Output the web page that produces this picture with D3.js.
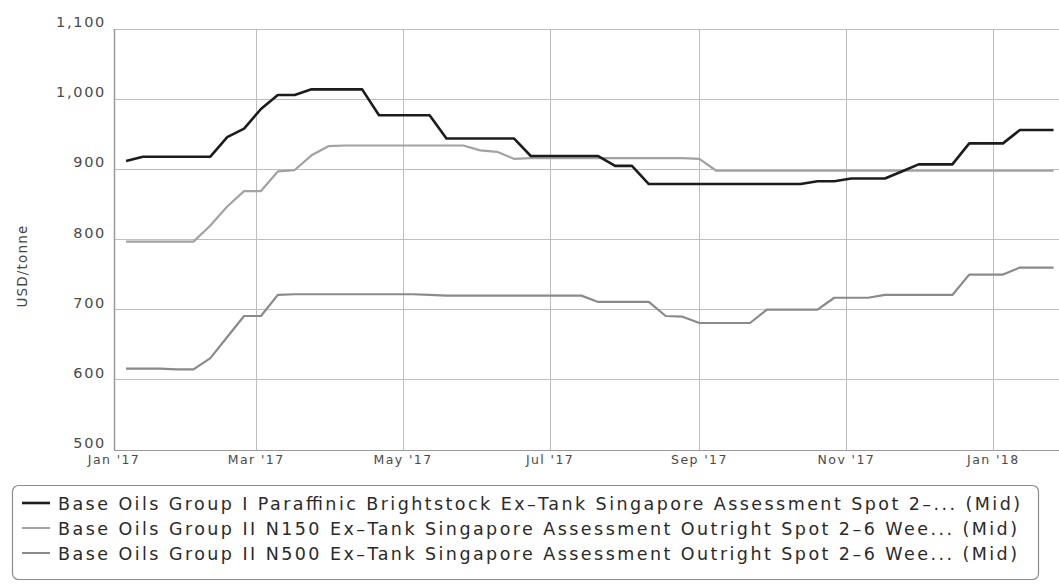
<!DOCTYPE html>
<html><head><meta charset="utf-8">
<script src="https://cdnjs.cloudflare.com/ajax/libs/d3/7.8.5/d3.min.js"></script>
<style>html,body{margin:0;padding:0;background:#fff;} svg{display:block;}</style>
</head><body><svg id="chart" width="1059" height="588"></svg>
<script>
const dates = [
 "2017-01-06","2017-01-13","2017-01-20","2017-01-27","2017-02-03","2017-02-10","2017-02-17","2017-02-24",
 "2017-03-03","2017-03-10","2017-03-17","2017-03-24","2017-03-31","2017-04-07","2017-04-14","2017-04-21",
 "2017-04-28","2017-05-05","2017-05-12","2017-05-19","2017-05-26","2017-06-02","2017-06-09","2017-06-16",
 "2017-06-23","2017-06-30","2017-07-07","2017-07-14","2017-07-21","2017-07-28","2017-08-04","2017-08-11",
 "2017-08-18","2017-08-25","2017-09-01","2017-09-08","2017-09-15","2017-09-22","2017-09-29","2017-10-06",
 "2017-10-13","2017-10-20","2017-10-27","2017-11-03","2017-11-10","2017-11-17","2017-11-24","2017-12-01",
 "2017-12-08","2017-12-15","2017-12-22","2017-12-29","2018-01-05","2018-01-12","2018-01-19","2018-01-26"
];
const brightstock = [
 912,918,918,918,918,918,946,958,
 986,1006,1006,1014,1014,1014,1014,977,
 977,977,977,944,944,944,944,944,
 919,919,919,919,919,905,905,879,
 879,879,879,879,879,879,879,879,
 879,883,883,887,887,887,897,907,
 907,907,937,937,937,956,956,956
];
const n150 = [
 797,797,797,797,797,820,847,869,
 869,897,899,920,933,934,934,934,
 934,934,934,934,934,927,925,915,
 916,916,916,916,916,916,916,916,
 916,916,915,898,898,898,898,898,
 898,898,898,898,898,898,898,898,
 898,898,898,898,898,898,898,898
];
const n500 = [
 616,616,616,615,615,631,661,691,
 691,721,722,722,722,722,722,722,
 722,722,721,720,720,720,720,720,
 720,720,720,720,711,711,711,711,
 691,690,681,681,681,681,700,700,
 700,700,717,717,717,721,721,721,
 721,721,750,750,750,760,760,760
];
const seriesNames = [
 "Base Oils Group I Paraffinic Brightstock Ex\u2013Tank Singapore Assessment Spot 2\u2013... (Mid)",
 "Base Oils Group II N150 Ex\u2013Tank Singapore Assessment Outright Spot 2\u20136 Wee... (Mid)",
 "Base Oils Group II N500 Ex\u2013Tank Singapore Assessment Outright Spot 2\u20136 Wee... (Mid)"
];
const seriesColors = ["#1c1c1c", "#a2a2a2", "#8a8a8a"];
const seriesWidths = [2.6, 2.2, 2.2];
const yTicks = [500, 600, 700, 800, 900, 1000, 1100];
const xTickDates = ["2017-01-01","2017-03-01","2017-05-01","2017-07-01","2017-09-01","2017-11-01","2018-01-01"];
const xTickLabels = ["Jan '17","Mar '17","May '17","Jul '17","Sep '17","Nov '17","Jan '18"];
const yTitle = "USD/tonne";

const parse = d3.utcParse("%Y-%m-%d");
const svg = d3.select("#chart");
const X0 = 114, X1 = 1068, YT = 29, YB = 450;

const x = d3.scaleUtc().domain([parse("2017-01-01"), parse("2018-02-01")]).range([X0, X1]);
const y = d3.scaleLinear().domain([500, 1100]).range([YB, YT]);

svg.append("defs").append("clipPath").attr("id","plotclip")
  .append("rect").attr("x", X0).attr("y", YT - 5).attr("width", X1 - X0).attr("height", YB - YT + 10);

// horizontal gridlines
svg.append("g").selectAll("line").data(yTicks).join("line")
  .attr("x1", X0).attr("x2", 1059)
  .attr("y1", d => y(d)).attr("y2", d => y(d))
  .attr("stroke", "#bdbdbd").attr("stroke-width", 1).attr("shape-rendering","crispEdges");

// vertical gridlines
svg.append("g").selectAll("line").data(xTickDates.slice(1)).join("line")
  .attr("x1", d => Math.round(x(parse(d))) + 0.5).attr("x2", d => Math.round(x(parse(d))) + 0.5)
  .attr("y1", YT).attr("y2", YB)
  .attr("stroke", "#bdbdbd").attr("stroke-width", 1);

// axis lines
svg.append("line").attr("x1", X0 + 0.5).attr("x2", X0 + 0.5).attr("y1", YT).attr("y2", YB)
  .attr("stroke", "#9a9a9a").attr("stroke-width", 1.5);
svg.append("line").attr("x1", X0).attr("x2", 1059).attr("y1", YB + 0.5).attr("y2", YB + 0.5)
  .attr("stroke", "#9a9a9a").attr("stroke-width", 1.2);

// y tick labels
const fmt = d3.format(",");
svg.append("g").selectAll("text").data(yTicks).join("text")
  .attr("x", 106).attr("y", d => y(d) - 2)
  .attr("text-anchor", "end")
  .attr("font-family", "'DejaVu Sans', Verdana, sans-serif")
  .attr("font-size", 14.5).attr("letter-spacing", "1.7px")
  .attr("fill", "#4a4a4a")
  .text(d => fmt(d));

// x tick labels
svg.append("g").selectAll("text").data(xTickDates).join("text")
  .attr("x", d => x(parse(d))).attr("y", YB + 14)
  .attr("text-anchor", "middle")
  .attr("font-family", "'DejaVu Sans', Verdana, sans-serif")
  .attr("font-size", 12.5).attr("letter-spacing", "1.4px")
  .attr("fill", "#4a4a4a")
  .text((d, i) => xTickLabels[i]);

// y title
svg.append("text")
  .attr("transform", `translate(27,266) rotate(-90)`)
  .attr("text-anchor", "middle")
  .attr("font-family", "'DejaVu Sans', Verdana, sans-serif")
  .attr("font-size", 13.5).attr("letter-spacing", "1.2px")
  .attr("fill", "#444")
  .text(yTitle);

// series
const allSeries = [n500, n150, brightstock];
const order = [2, 1, 0];
const line = d3.line().x(d => x(d.date)).y(d => y(d.value));
const gSeries = svg.append("g").attr("clip-path", "url(#plotclip)");
allSeries.forEach((vals, j) => {
  const idx = order[j];
  const pts = dates.map((d, i) => ({date: parse(d), value: vals[i]}));
  gSeries.append("path").datum(pts)
    .attr("d", line)
    .attr("fill", "none")
    .attr("stroke", seriesColors[idx])
    .attr("stroke-width", seriesWidths[idx])
    .attr("stroke-linejoin", "round");
});

// legend
const lg = svg.append("g");
lg.append("rect").attr("x", 12.5).attr("y", 485.5).attr("width", 1026).attr("height", 94)
  .attr("rx", 6).attr("fill", "#fff").attr("stroke", "#8c8c8c").attr("stroke-width", 1.2);
const legendWidths = [962, 959, 959];
seriesNames.forEach((name, i) => {
  const cy = 503 + i * 25;
  lg.append("line").attr("x1", 22).attr("x2", 50).attr("y1", cy).attr("y2", cy)
    .attr("stroke", seriesColors[i]).attr("stroke-width", i === 0 ? 2.6 : 2);
  lg.append("text").attr("x", 58).attr("y", cy + 6.5)
    .attr("font-family", "'DejaVu Sans', Verdana, sans-serif")
    .attr("font-size", 17.5)
    .attr("fill", "#2a2a2a")
    .attr("textLength", legendWidths[i]).attr("lengthAdjust", "spacing")
    .text(name);
});
</script>
</body></html>
